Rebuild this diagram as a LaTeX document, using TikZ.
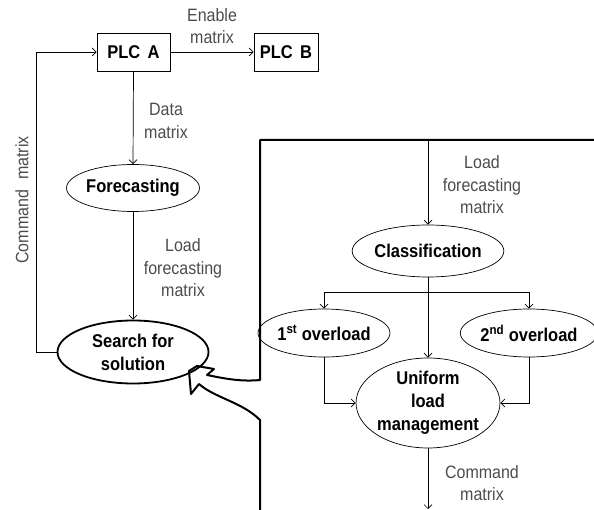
\documentclass[tikz,border=0pt]{standalone}
\usepackage{fontspec}
\usepackage{graphicx}
\setmainfont{Liberation Sans}
\usetikzlibrary{shapes.geometric,arrows.meta}
\newcommand{\tl}[1]{\scalebox{1}[1.12]{#1}}
\tikzset{
  every picture/.style={x=1pt,y=-1pt},
  con/.style={line width=0.7pt,-{Straight Barb[length=4pt,width=8pt,line width=0.7pt]}},
  boxnode/.style={draw,line width=0.8pt,rectangle,inner sep=0pt,font=\fontsize{16.5}{23}\selectfont\bfseries},
  ellnode/.style={draw,line width=0.7pt,ellipse,inner sep=0pt,align=center,font=\fontsize{16.5}{23}\selectfont\bfseries},
  lbl/.style={align=center,text=black!70,font=\fontsize{16}{22.5}\selectfont},
  panel/.style={line width=2pt,line join=round}
}
\begin{document}
\begin{tikzpicture}
\useasboundingbox (0,0) rectangle (594,510);
% top boxes
\node[boxnode,minimum width=73pt,minimum height=38pt] (plca) at (133.5,52) {\tl{PLC\, A}};
\node[boxnode,minimum width=64pt,minimum height=38pt] (plcb) at (286,52) {\tl{PLC\, B}};
\draw[con] (plca.east) -- (plcb.west);
\node[lbl] (lenable) at (212,26) {\tl{Enable}\\\tl{matrix}};
% left column
\node[ellnode,minimum width=133pt,minimum height=47pt] (fore) at (133,188) {\tl{Forecasting}};
\node[ellnode,line width=1.8pt,minimum width=151pt,minimum height=63pt] (search) at (133,352) {\tl{Search for}\\\tl{solution}};
\draw[con] (plca.south) -- (fore.north);
\node[lbl] (ldata) at (166,121) {\tl{Data}\\\tl{matrix}};
\draw[con] (fore.south) -- (search.north);
\node[lbl] (lload) at (183,268) {\tl{Load}\\\tl{forecasting}\\\tl{matrix}};
\draw[con] (search.west) -- ++(-20,0) |- (plca.west);
\node[lbl,rotate=90] (lcmd) at (22,200) {\tl{Command\hspace{10pt}matrix}};
% panel with callout
\coordinate (pTL) at (260,140);
\coordinate (pTR) at (594,140);
\coordinate (pBL) at (260,510);
\draw[panel] (pTR) -- (pTL) -- (260,380)
  .. controls (240,382) and (222,378) .. (207,375)
  -- (214,369) -- (197,366) -- (189,371) -- (191,394) -- (199,384)
  .. controls (215,398) and (242,402) .. (260,420) -- (pBL);
% right column
\coordinate (ptop) at (428,140);
\node[ellnode,minimum width=128pt,minimum height=52pt] (class) at (428,251) {\tl{Classification}};
\node[lbl] (lload2) at (482,185) {\tl{Load}\\\tl{forecasting}\\\tl{matrix}};
\draw[con] (ptop) -- (class.north);
\node[ellnode,minimum width=118pt,minimum height=48pt] (ov1) at (324,333) {\tl{1\textsuperscript{st} overload}};
\node[ellnode,minimum width=114pt,minimum height=48pt] (ov2) at (529,333) {\tl{2\textsuperscript{nd} overload}};
\node[ellnode,minimum width=143pt,minimum height=90pt] (unif) at (428,403) {\tl{Uniform}\\\tl{load}\\\tl{management}};
\coordinate (br) at (428,292);
\draw[con] (class.south) -- (unif.north);
\draw[con] (br) -| (ov1.north);
\draw[con] (br) -| (ov2.north);
\draw[con] (ov1.south) |- (unif.west);
\draw[con] (ov2.south) |- (unif.east);
\coordinate (pbot) at (428,509);
\draw[con] (unif.south) -- (pbot);
\node[lbl] (lcmd2) at (482,483) {\tl{Command}\\\tl{matrix}};
\end{tikzpicture}
\end{document}
